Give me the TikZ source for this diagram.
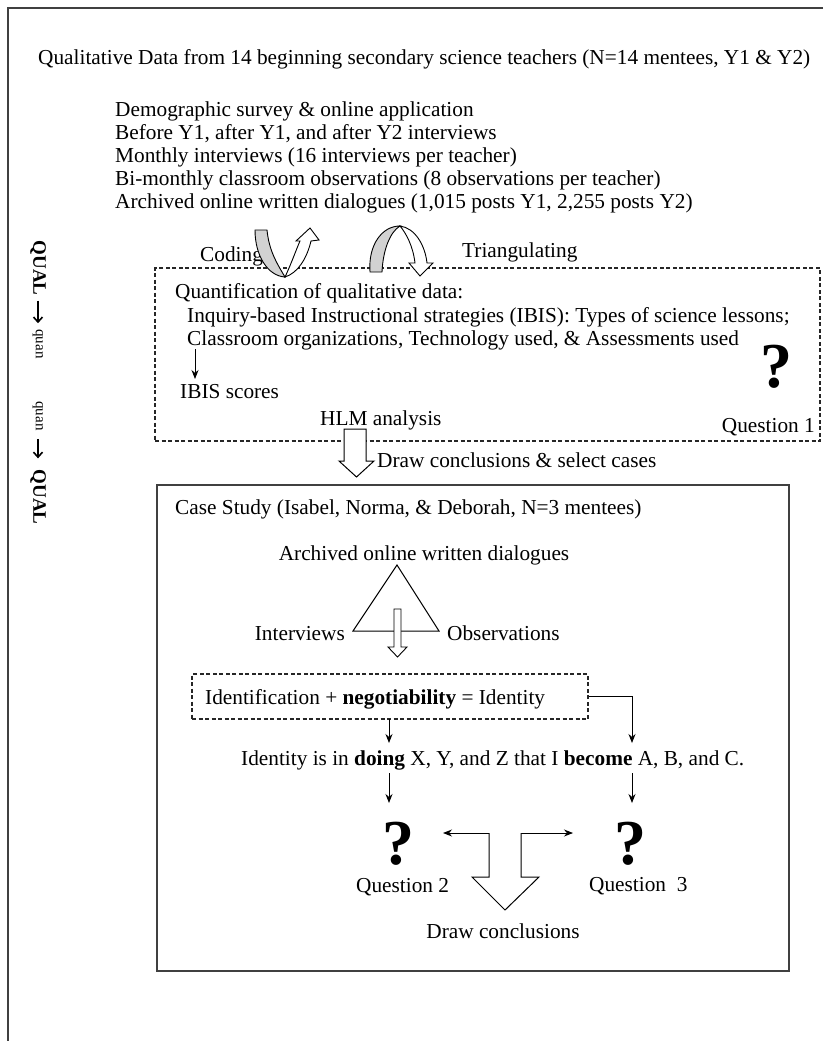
\documentclass[tikz,border=0pt]{standalone}
\usepackage{fontspec}
\setmainfont{Liberation Serif}
\usetikzlibrary{arrows.meta}
\tikzset{
  txt/.style={inner sep=0pt, anchor=base west, font=\fontsize{21.3}{23}\selectfont},
  ctxt/.style={inner sep=0pt, anchor=base, font=\fontsize{21.3}{23}\selectfont},
  qmark/.style={inner sep=0pt, font=\fontsize{64}{64}\selectfont\bfseries},
  sideQ/.style={inner sep=0pt, rotate=-90, font=\fontsize{19}{19}\selectfont\bfseries},
  sideq/.style={inner sep=0pt, rotate=-90, font=\fontsize{15}{15}\selectfont},
  sidearr/.style={draw=black, line width=1.8pt, -{Straight Barb[length=5pt,width=9pt,line width=1.6pt]}},
  frame/.style={draw=black!75, line width=1.6pt},
  dbox/.style={draw=black!85, line width=1.1pt, dash pattern=on 4pt off 2.5pt, rectangle, inner sep=0pt},
  sbox/.style={draw=black!75, line width=1.6pt, rectangle, inner sep=0pt},
  arr/.style={draw=black, line width=0.9pt, -{Stealth[length=9pt,width=7pt]}},
  hollow/.style={draw=black, fill=white, line width=1pt, line join=miter},
  curved/.style={draw=black, line width=0.9pt},
}
\begin{document}
\begin{tikzpicture}[x=1pt,y=-1pt]
\useasboundingbox (0,0) rectangle (823,1041);
% outer frame
\draw[frame] (823,8) -- (8,8) -- (8,1041);

% title and data list
\node[txt] (title) at (38,64) {Qualitative Data from 14 beginning secondary science teachers (N=14 mentees, Y1 \& Y2)};
\node[txt] (l1) at (115,116) {Demographic survey \& online application};
\node[txt] (l2) at (115,139) {Before Y1, after Y1, and after Y2 interviews};
\node[txt] (l3) at (115,162) {Monthly interviews (16 interviews per teacher)};
\node[txt] (l4) at (115,185) {Bi-monthly classroom observations (8 observations per teacher)};
\node[txt] (l5) at (115,208) {Archived online written dialogues (1,015 posts Y1, 2,255 posts Y2)};

% side labels
\node[sideQ] (sQ1) at (38,268) {QUAL};
\node[sideq] (sq1) at (38,344) {quan};
\draw[sidearr, shorten <=5pt, shorten >=6pt] (sQ1.east) -- (sq1.west);
\node[sideq] (sq2) at (38,416) {quan};
\node[sideQ] (sQ2) at (38,497) {QUAL};
\draw[sidearr, shorten <=8pt, shorten >=11pt] (sq2.east) -- (sQ2.west);

% quantification dashed box
\node[dbox, minimum width=665pt, minimum height=173pt] (quant) at (487.5,354.5) {};
\node[txt] (coding) at (200,261) {Coding};
\node[txt] (triang) at (462,257) {Triangulating};

% coding curved arrow
\filldraw[curved, fill=gray!35] (255,230) .. controls (255,256) and (268,276) .. (285,277) .. controls (276,262) and (269,250) .. (267,230) -- cycle;
\filldraw[curved, fill=white] (285,277) .. controls (292,262) and (296,250) .. (300,241) -- (296,241) -- (310,228) -- (319,240) -- (311,241) .. controls (307,258) and (298,273) .. (285,277) -- cycle;
% triangulating curved arrow
\filldraw[curved, fill=gray!35] (370,272) .. controls (368,245) and (382,226) .. (400,226) .. controls (390,232) and (383,250) .. (382,272) -- cycle;
\filldraw[curved, fill=white] (400,226) .. controls (415,228) and (425,245) .. (427,263) -- (433,263) -- (420,276) -- (409,263) -- (415,263) .. controls (413,246) and (406,233) .. (400,226) -- cycle;

\node[txt] (q1) at (175,298) {Quantification of qualitative data:};
\node[txt] (q2) at (187,322) {Inquiry-based Instructional strategies (IBIS): Types of science lessons;};
\node[txt] (q3) at (187,345) {Classroom organizations, Technology used, \& Assessments used};
\coordinate (ibtop) at (195,349);
\node[txt] (ibis) at (180,398) {IBIS scores};
\draw[arr] (ibtop) -- (195,379);
\node[qmark] (qm1) at (776,367) {?};
\node[txt, anchor=base east] (ques1) at (815,432) {Question 1};
\node[txt] (hlm) at (320,425) {HLM analysis};

% HLM hollow arrow
\filldraw[hollow] (344,429) -- (366,429) -- (366,461) -- (374,461) -- (356.5,477) -- (339,461) -- (344,461) -- cycle;
\node[txt] (drawsel) at (377,467) {Draw conclusions \& select cases};

% case study box
\node[sbox, minimum width=632pt, minimum height=486pt] (case) at (473,728) {};
\node[txt] (casetitle) at (175,514) {Case Study (Isabel, Norma, \& Deborah, N=3 mentees)};
\node[ctxt] (archived) at (424,560) {Archived online written dialogues};
\coordinate (tA) at (397,565);
\coordinate (tB) at (353,631);
\coordinate (tC) at (439,631);
\draw[line width=1pt, line join=miter] (tA) -- (tB) -- (tC) -- cycle;
\node[txt, anchor=base east] (interv) at (345,640) {Interviews};
\node[txt] (observ) at (447,640) {Observations};
\filldraw[hollow, line width=0.9pt] (394,609) -- (401,609) -- (401,647) -- (407,647) -- (397.5,657) -- (388,647) -- (394,647) -- cycle;

% identification box
\node[dbox, minimum width=396pt, minimum height=45pt] (ident) at (390,696.5) {};
\node[txt] (identtxt) at (205,704) {Identification + \textbf{negotiability} = Identity};
\node[txt] (doing) at (241,765) {Identity is in \textbf{doing} X, Y, and Z that I \textbf{become} A, B, and C.};
\coordinate (idB) at (389,719);
\coordinate (idBend) at (389,743);
\coordinate (idR) at (ident.east);
\coordinate (idRend) at (632,743);
\draw[arr] (idB) -- (idBend);
\draw[arr] (idR) -| (idRend);

% questions
\coordinate (d1) at (389,773);
\coordinate (d2) at (632,773);
\node[qmark] (qm2) at (398,844) {?};
\node[qmark] (qm3) at (630,844) {?};
\draw[arr] (d1) -- (389,803);
\draw[arr] (d2) -- (632,803);
\node[txt] (ques2) at (356,892) {Question 2};
\node[txt] (ques3) at (589,891) {Question\ \ 3};
\coordinate (dl) at (443,833);
\coordinate (dr) at (573,833);
\draw[arr, {Stealth[length=9pt,width=7pt]}-{Stealth[length=9pt,width=7pt]}] (dl) -- (dr);
\filldraw[hollow] (489,833) -- (489,877) -- (472,877) -- (505,910) -- (539,877) -- (521,877) -- (521,833);
\node[ctxt] (drawc) at (503,938) {Draw conclusions};
\end{tikzpicture}
\end{document}
